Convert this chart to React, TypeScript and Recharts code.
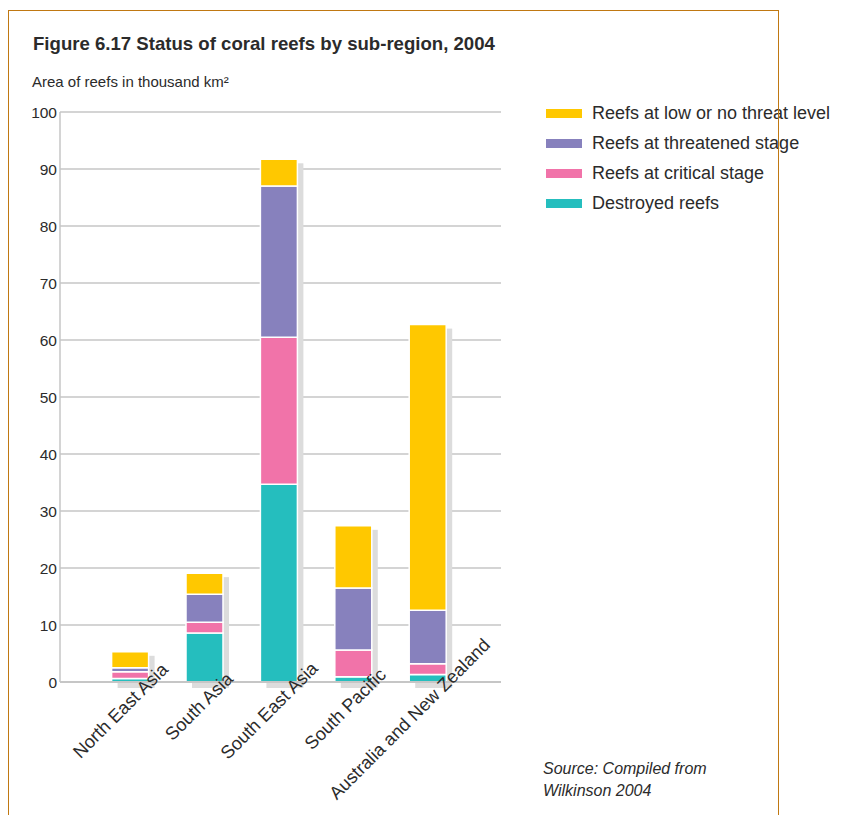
import React from 'react'
import { BarChart, Bar, XAxis, YAxis, CartesianGrid } from 'recharts'

const regions = ['North East Asia', 'South Asia', 'South East Asia', 'South Pacific', 'Australia and New Zealand']
const destroyed = [0.6, 8.6, 34.7, 0.9, 1.3]
const critical = [1.2, 1.9, 25.8, 4.7, 1.9]
const threatened = [0.7, 4.9, 26.5, 10.9, 9.4]
const lowThreat = [2.8, 3.7, 4.7, 10.9, 50.1]
const yTicks = [0, 10, 20, 30, 40, 50, 60, 70, 80, 90, 100]

const series = [
  { key: 'low', name: 'Reefs at low or no threat level', color: '#FFC800' },
  { key: 'threatened', name: 'Reefs at threatened stage', color: '#8781BD' },
  { key: 'critical', name: 'Reefs at critical stage', color: '#F173A9' },
  { key: 'destroyed', name: 'Destroyed reefs', color: '#25BEBE' },
]

const data = regions.map((name, i) => ({
  name,
  destroyed: destroyed[i],
  critical: critical[i],
  threatened: threatened[i],
  low: lowThreat[i],
}))

const FONT = '"Liberation Sans", Arial, Helvetica, sans-serif'

// bottom segment also paints the grey drop shadow for the whole stack
function ShadowedBase(props: any) {
  const { x, y, width, height, payload, fill } = props
  const unit = height / payload.destroyed
  const total = payload.destroyed + payload.critical + payload.threatened + payload.low
  const h = total * unit
  const top = y + height - h
  return (
    <g>
      <rect x={x + 6} y={top + 4} width={width} height={h + 2} fill="#DCDCDC" />
      <rect x={x} y={y} width={width} height={height} fill={fill} stroke="#fff" strokeWidth={1.5} />
    </g>
  )
}

function XTick(props: any) {
  const { x, y, payload } = props
  const px = x - 6
  const py = y + 31
  // longer labels sit a little further down-left in the original
  const shift = 22.5 - 1.19 * String(payload.value).length
  return (
    <text x={px} y={py} dx={shift} dy={-3.9} transform={`rotate(-45 ${px} ${py})`} textAnchor="middle" fill="#2b2b2b" fontSize={18.2} fontFamily={FONT}>
      {payload.value}
    </text>
  )
}

export default function App() {
  return (
    <div style={{ position: 'absolute', left: 0, top: 0, width: 842, height: 815, background: '#fff', fontFamily: FONT, color: '#2b2b2b', overflow: 'hidden' }}>
      <div style={{ position: 'absolute', left: 33, top: 33, fontSize: 18.6, fontWeight: 'bold', whiteSpace: 'nowrap' }}>
        Figure 6.17 Status of coral reefs by sub-region, 2004
      </div>
      <div style={{ position: 'absolute', left: 32, top: 73, fontSize: 15, whiteSpace: 'nowrap' }}>
        Area of reefs in thousand km²
      </div>
      <div style={{ position: 'absolute', left: 0, top: 0 }}>
        <BarChart width={842} height={815} data={data} margin={{ top: 112, right: 341, left: 0, bottom: 100 }} barCategoryGap="25%">
          <CartesianGrid vertical={false} stroke="#C6C6C6" strokeWidth={1.5} />
          <XAxis
            dataKey="name"
            height={33}
            interval={0}
            padding={{ left: 33, right: 36 }}
            tickLine={false}
            axisLine={{ stroke: '#C6C6C6', strokeWidth: 2 }}
            tick={<XTick />}
          />
          <YAxis
            width={60}
            domain={[0, 100]}
            ticks={yTicks}
            tickLine={false}
            tickSize={0}
            tickMargin={3}
            axisLine={{ stroke: '#C6C6C6', strokeWidth: 1.5 }}
            tick={{ fill: '#2b2b2b', fontSize: 15.5, fontFamily: FONT }}
          />
          <YAxis yAxisId="frame" orientation="right" width={0} domain={[0, 100]} tick={false} tickLine={false} axisLine={{ stroke: '#C6C6C6', strokeWidth: 1.5 }} />
          <Bar dataKey="destroyed" stackId="s" fill="#25BEBE" shape={<ShadowedBase />} isAnimationActive={false} />
          <Bar dataKey="critical" stackId="s" fill="#F173A9" stroke="#fff" strokeWidth={1.5} isAnimationActive={false} />
          <Bar dataKey="threatened" stackId="s" fill="#8781BD" stroke="#fff" strokeWidth={1.5} isAnimationActive={false} />
          <Bar dataKey="low" stackId="s" fill="#FFC800" stroke="#fff" strokeWidth={1.5} isAnimationActive={false} />
        </BarChart>
      </div>
      <div style={{ position: 'absolute', left: 546, top: 98 }}>
        {series.map((s) => (
          <div key={s.key} style={{ display: 'flex', alignItems: 'center', height: 30, fontSize: 18, whiteSpace: 'nowrap' }}>
            <span style={{ display: 'inline-block', width: 36, height: 9, background: s.color, marginRight: 10 }} />
            {s.name}
          </div>
        ))}
      </div>
      <div style={{ position: 'absolute', left: 543, top: 758, fontSize: 16, fontStyle: 'italic', lineHeight: '22px' }}>
        Source: Compiled from
        <br />
        Wilkinson 2004
      </div>
      <div style={{ position: 'absolute', left: 8, top: 10, width: 769, height: 820, borderTop: '1.5px solid #C07812', borderLeft: '1.5px solid #C07812', borderRight: '1.5px solid #C07812', pointerEvents: 'none' }} />
    </div>
  )
}
